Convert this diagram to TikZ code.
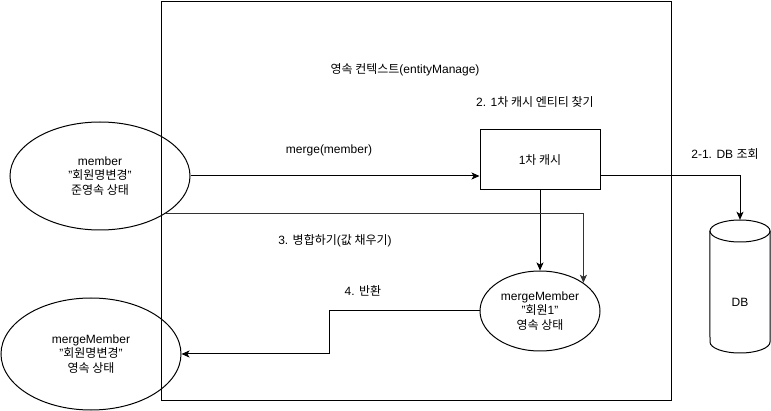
\documentclass[tikz,border=0pt]{standalone}
\usepackage{fontspec}
\setmainfont{Liberation Sans}
\newfontfamily\kr{Noto Sans CJK KR}
\usetikzlibrary{shapes.geometric,arrows.meta}
\newcommand\K[1]{{\kr #1}}
\begin{document}
\begin{tikzpicture}[x=1pt,y=-1pt,
  every node/.style={font=\fontsize{12}{14.5}\selectfont, inner sep=0pt},
  ell/.style={draw, ellipse, line width=1pt, align=center},
  boxn/.style={draw, line width=1pt, align=center},
  arr/.style={line width=1pt, -{Stealth[length=8pt,width=7pt,inset=2pt]}}]
\useasboundingbox (0,0) rectangle (771,411);
% context frame
\node[boxn, minimum width=510pt, minimum height=399pt, anchor=north west] (ctx) at (160.5,1) {};
% labels
\node (t0) at (405,70) {\K{영속 컨텍스트}(entityManage)};
\node (t2) at (535,102) {2. 1\K{차 캐시 엔티티 찾기}};
\node (t1) at (329,150) {merge(member)};
\node (t21) at (725,154) {2-1. DB \K{조회}};
\node (t3) at (335,241) {3. \K{병합하기}(\K{값 채우기})};
\node (t4) at (363,291) {4. \K{반환}};
% shapes
\node[ell, minimum width=180pt, minimum height=108pt] (member) at (100,176) {member\\"\K{회원명변경}"\\\K{준영속 상태}};
\node[boxn, minimum width=120pt, minimum height=60pt] (cache) at (540,160) {1\K{차 캐시}};
\node[ell, minimum width=120pt, minimum height=80pt] (mid) at (540,311) {mergeMember\\"\K{회원}1"\\\K{영속 상태}};
\node[ell, minimum width=180pt, minimum height=112pt] (mm2) at (91,354) {mergeMember\\"\K{회원명변경}"\\\K{영속 상태}};
\node[minimum width=60pt, minimum height=133pt] (db) at (740,286.5) {};
\draw[line width=1pt] (740,231) ellipse [x radius=30pt, y radius=11pt];
\draw[line width=1pt] (db.north west) ++(0,11) -- (710,342) arc[start angle=180, end angle=360, x radius=30pt, y radius=11pt] -- (770,231);
\node (dbl) at (740,302) {DB};
% connectors
\draw[arr] (member.east) -- (member.east -| cache.west);
\draw[arr] (member.east -| cache.east) -| (db.north);
\draw[arr] (cache.south) -- (mid.north);
\draw[arr, black!80] (member.-30) -| (mid.33);
\draw[arr] (mid.west) -- ++(-150,0) |- (mm2.east);
\end{tikzpicture}
\end{document}
